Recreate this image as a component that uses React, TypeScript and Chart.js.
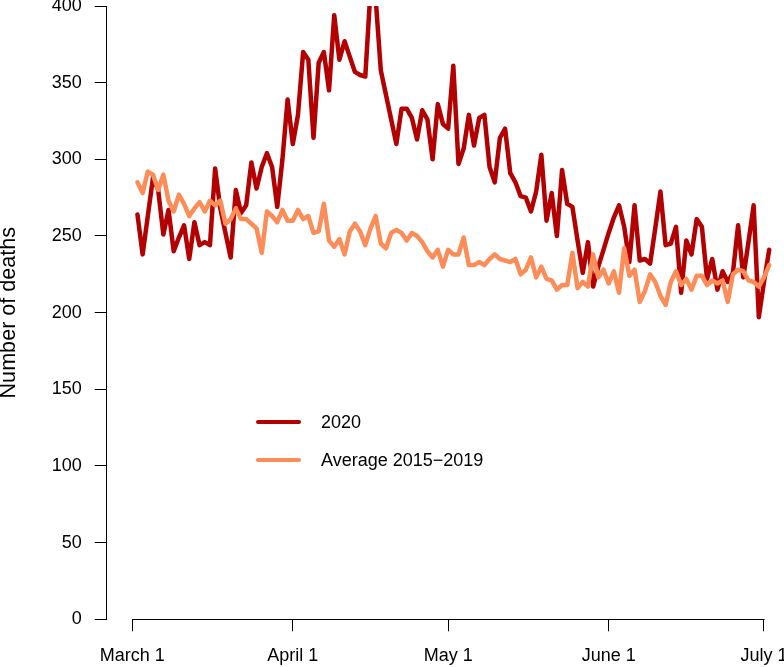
import { useEffect, useRef } from 'react';
import { Chart, registerables } from 'chart.js';

Chart.register(...registerables);

// daily deaths, one value per day starting March 2 (day 1 = March 2, day 0 = March 1)
const deaths2020 = [
  264, 238, 263, 288, 280, 251, 267, 240, 249, 257,
  235, 259, 244, 246, 244, 294, 268, 252, 236, 280,
  265, 270, 298, 281, 295, 304, 295, 269, 300, 339,
  310, 329, 370, 365, 314, 363, 370, 345, 394, 365,
  377, 367, 357, 355, 354, 410, 405, 358, 342, 326,
  310, 333, 333, 327, 313, 332, 326, 300, 336, 323,
  320, 361, 297, 307, 329, 309, 327, 329, 295, 285,
  314, 320, 291, 285, 276, 275, 266, 279, 303, 260,
  278, 250, 293, 271, 269, 247, 226, 246, 217, 230,
  241, 252, 262, 270, 256, 233, 270, 234, 235, 232,
  255, 279, 244, 245, 256, 213, 247, 238, 261, 256,
  222, 235, 215, 227, 220, 226, 257, 223, 246, 270,
  197, 220, 241,
];

const deathsAverage = [
  285, 278, 292, 290, 280, 290, 273, 266, 277, 271,
  263, 268, 272, 266, 273, 270, 273, 258, 261, 268,
  261, 261, 258, 255, 239, 266, 263, 259, 267, 260,
  260, 267, 261, 263, 252, 253, 271, 247, 243, 248,
  238, 253, 258, 253, 244, 255, 263, 245, 242, 252,
  254, 252, 247, 252, 250, 246, 240, 236, 241, 230,
  241, 238, 238, 249, 231, 231, 233, 231, 235, 238,
  235, 234, 233, 235, 225, 228, 236, 223, 230, 222,
  221, 215, 218, 218, 239, 216, 220, 217, 238, 223,
  228, 219, 227, 213, 242, 224, 228, 207, 214, 225,
  220, 211, 205, 220, 227, 218, 222, 215, 224, 224,
  218, 221, 219, 221, 207, 225, 228, 227, 221, 220,
  217, 223, 231,
];

const tickDays = [0, 31, 61, 92, 122];
const tickLabels = ['March 1', 'April 1', 'May 1', 'June 1', 'July 1'];
const seriesNames = ['2020', 'Average 2015\u22122019'];

const COLOR_2020 = '#B30000';
const COLOR_AVG = '#FC8D59';
const FONT = "'Liberation Sans', Arial, Helvetica, sans-serif";

const toPoints = (values: number[]) => values.map((y, i) => ({ x: i + 1, y }));

// R-style x axis: the line only runs from the first to the last tick
const xAxisLine = {
  id: 'xAxisLine',
  afterDraw(chart: any) {
    const xs = chart.scales.x;
    const { ctx, chartArea } = chart;
    const x0 = xs.getPixelForValue(tickDays[0]);
    const x1 = xs.getPixelForValue(tickDays[tickDays.length - 1]);
    const y = Math.round(chartArea.bottom) + 0.5;
    ctx.save();
    ctx.strokeStyle = '#000';
    ctx.lineWidth = 1;
    ctx.beginPath();
    ctx.moveTo(Math.round(x0) + 0.5, y);
    ctx.lineTo(Math.round(x1) + 0.5, y);
    ctx.stroke();
    ctx.restore();
  },
};

function LegendRow({ color, label }: { color: string; label: string }) {
  return (
    <div style={{ display: 'flex', alignItems: 'center', height: 38 }}>
      <div style={{ width: 45, height: 4.5, borderRadius: 3, background: color }} />
      <span style={{ marginLeft: 20, fontFamily: FONT, fontSize: 18, color: '#000' }}>{label}</span>
    </div>
  );
}

export default function App() {
  const canvasRef = useRef<HTMLCanvasElement>(null);

  useEffect(() => {
    if (!canvasRef.current) return;
    const ctx = canvasRef.current.getContext('2d');
    if (!ctx) return;

    const font = { family: FONT, size: 18 };

    const chart = new Chart(ctx, {
      type: 'line',
      data: {
        datasets: [
          {
            label: seriesNames[0],
            data: toPoints(deaths2020),
            borderColor: COLOR_2020,
            borderWidth: 4.5,
            pointRadius: 0,
            tension: 0,
            borderJoinStyle: 'round',
            borderCapStyle: 'round',
            clip: 0,
            order: 2,
          },
          {
            label: seriesNames[1],
            data: toPoints(deathsAverage),
            borderColor: COLOR_AVG,
            borderWidth: 4.5,
            pointRadius: 0,
            tension: 0,
            borderJoinStyle: 'round',
            borderCapStyle: 'round',
            clip: 0,
            order: 1,
          },
        ],
      },
      options: {
        responsive: false,
        animation: false,
        layout: { padding: { top: 6, right: 4, bottom: 0, left: 0 } },
        plugins: { legend: { display: false }, tooltip: { enabled: false } },
        scales: {
          x: {
            type: 'linear',
            min: -4.94,
            max: 125.09,
            border: { display: false },
            grid: { drawOnChartArea: false, drawTicks: true, tickLength: 12, color: '#000', lineWidth: 1 },
            ticks: {
              autoSkip: false,
              maxRotation: 0,
              padding: 14,
              color: '#000',
              font,
              callback: (v: any) => tickLabels[tickDays.indexOf(Number(v))] ?? '',
            },
            afterBuildTicks: (s: any) => {
              s.ticks = tickDays.map((value) => ({ value }));
            },
            afterFit: (s: any) => {
              s.height = 47.7;
              s.paddingLeft = 0;
              s.paddingRight = 0;
            },
          },
          y: {
            min: 0,
            max: 400,
            border: { display: true, color: '#000', width: 1 },
            grid: { drawOnChartArea: false, drawTicks: true, tickLength: 12, color: '#000', lineWidth: 1 },
            ticks: { stepSize: 50, padding: 13, color: '#000', font },
            title: {
              display: true,
              text: 'Number of deaths',
              color: '#000',
              font: { family: FONT, size: 21.6 },
              padding: { top: -3.8, bottom: 0 },
            },
            afterFit: (s: any) => {
              s.width = 106.7;
              s.paddingTop = 0;
              s.paddingBottom = 0;
            },
          },
        },
      },
      plugins: [xAxisLine],
    });

    return () => chart.destroy();
  }, []);

  return (
    <div style={{ position: 'absolute', left: 0, top: 0, width: 784, height: 667, background: '#fff' }}>
      <canvas ref={canvasRef} width={784} height={667} style={{ width: 784, height: 667, display: 'block' }} />
      <div style={{ position: 'absolute', left: 256, top: 403 }}>
        <LegendRow color={COLOR_2020} label={seriesNames[0]} />
        <LegendRow color={COLOR_AVG} label={seriesNames[1]} />
      </div>
    </div>
  );
}
